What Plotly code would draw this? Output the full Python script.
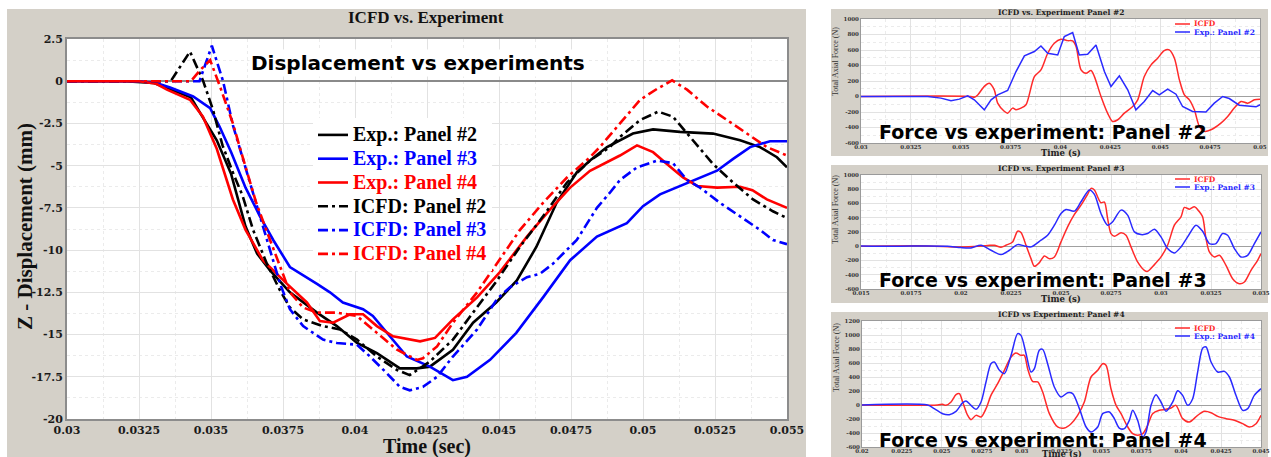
import plotly.graph_objects as go

W, H = 1271, 457

# ---------------- main chart data (time in s, Z displacement in mm) ----------------
exp2_t = [0.0300, 0.0320, 0.0330, 0.0336, 0.0343, 0.0347, 0.0352, 0.0357, 0.0362, 0.0366, 0.03705, 0.03774, 0.03868,
          0.03937, 0.04007, 0.04076, 0.04156, 0.04215, 0.0426, 0.0434, 0.0441, 0.0449, 0.04562, 0.0463, 0.0470, 0.0477,
          0.04816, 0.04875, 0.0491, 0.04965, 0.05035, 0.05128, 0.05243, 0.05337, 0.05406, 0.05465, 0.0550]
exp2_z = [0, 0, -0.1, -0.5, -0.95, -2.1, -3.5, -5.5, -8.6, -10.2, -11.2, -12.5, -13.7, -14.5, -15.5, -16.1, -17.0,
          -17.0, -16.9, -15.9, -14.3, -13.1, -11.8, -9.8, -7.2, -5.4, -4.7, -3.9, -3.6, -3.1, -2.85, -3.0, -3.1, -3.5,
          -3.9, -4.5, -5.1]

exp3_t = [0.0300, 0.0325, 0.0331, 0.03358, 0.03438, 0.03497, 0.0353, 0.0357, 0.0362, 0.0367, 0.03716, 0.03774, 0.03868,
          0.03913, 0.03958, 0.04028, 0.04062, 0.04122, 0.0418, 0.0426, 0.0434, 0.04389, 0.04469, 0.0456, 0.04653,
          0.04747, 0.0484, 0.04944, 0.0500, 0.05059, 0.05128, 0.05198, 0.05257, 0.05313, 0.05372, 0.05441, 0.0550]
exp3_z = [0, 0, -0.1, -0.37, -0.9, -1.6, -2.7, -4.2, -6.3, -8.0, -9.4, -11.0, -12.0, -12.5, -13.1, -13.5, -13.9, -15.1,
          -16.3, -16.9, -17.7, -17.5, -16.5, -14.9, -12.8, -10.6, -9.2, -8.4, -7.4, -6.7, -6.2, -5.7, -5.3, -4.6, -3.9,
          -3.55, -3.55]

exp4_t = [0.0300, 0.0325, 0.0331, 0.03347, 0.03427, 0.03472, 0.0352, 0.03576, 0.0362, 0.0368, 0.03764, 0.03833,
          0.03878, 0.03924, 0.03983, 0.04028, 0.04076, 0.04132, 0.04226, 0.04278, 0.0434, 0.04424, 0.04503, 0.04597,
          0.04677, 0.04747, 0.04816, 0.0492, 0.04979, 0.05035, 0.05083, 0.05139, 0.05188, 0.05257, 0.05337, 0.0538,
          0.0543, 0.0550]
exp4_z = [0, 0, -0.15, -0.5, -1.1, -2.1, -4.0, -7.0, -8.8, -10.6, -12.0, -13.1, -14.2, -14.3, -13.8, -13.8, -14.5,
          -15.1, -15.4, -15.2, -14.1, -12.8, -11.3, -9.2, -7.6, -6.3, -5.3, -4.4, -3.8, -4.2, -4.9, -5.7, -6.2, -6.3,
          -6.25, -6.45, -7.0, -7.5]

icfd2_t = [0.0300, 0.0336, 0.03427, 0.03472, 0.03507, 0.0354, 0.03576, 0.0361, 0.03646, 0.03694, 0.0374, 0.03774,
           0.0382, 0.03889, 0.03948, 0.04007, 0.04076, 0.04146, 0.0419, 0.0426, 0.0434, 0.04424, 0.04493, 0.04573,
           0.04653, 0.04736, 0.04816, 0.04885, 0.0492, 0.0499, 0.05053, 0.05104, 0.05174, 0.05243, 0.05313, 0.05382,
           0.05451, 0.0550]
icfd2_z = [0, 0, 1.75, 0.05, -1.7, -3.8, -5.4, -6.8, -8.8, -10.8, -12.4, -13.4, -14.1, -14.5, -14.7, -15.3, -16.3,
           -17.1, -17.4, -16.6, -15.3, -13.4, -11.8, -9.8, -8.0, -6.0, -4.7, -3.9, -3.3, -2.3, -1.8, -2.1, -3.5, -4.9,
           -6.0, -7.0, -7.7, -8.1]

icfd3_t = [0.0300, 0.0346, 0.03503, 0.03542, 0.03576, 0.0361, 0.03646, 0.0367, 0.03705, 0.0374, 0.03774, 0.0382,
           0.03889, 0.03937, 0.04007, 0.04052, 0.04111, 0.04156, 0.0419, 0.04236, 0.04285, 0.0434, 0.04424, 0.04493,
           0.04538, 0.04597, 0.04642, 0.04688, 0.0477, 0.0484, 0.04885, 0.0492, 0.04979, 0.05049, 0.05104, 0.05153,
           0.05198, 0.05267, 0.05337, 0.05406, 0.05451, 0.0550]
icfd3_z = [0, 0, 2.1, 0.0, -2.6, -4.5, -6.6, -8.0, -10.0, -12.0, -13.5, -14.5, -15.3, -15.5, -15.6, -16.3, -17.3,
           -18.1, -18.3, -18.1, -17.5, -16.3, -14.7, -12.9, -12.2, -11.6, -11.4, -10.8, -9.4, -7.5, -6.6, -5.85, -5.1,
           -4.7, -4.85, -5.85, -6.3, -7.2, -8.0, -8.8, -9.4, -9.65]

icfd4_t = [0.0300, 0.0343, 0.03462, 0.03497, 0.03531, 0.03576, 0.0361, 0.03657, 0.03705, 0.0374, 0.03774, 0.0382,
           0.03868, 0.03937, 0.04007, 0.04076, 0.04146, 0.04215, 0.04236, 0.04285, 0.0434, 0.04424, 0.04493, 0.04573,
           0.04653, 0.04736, 0.04816, 0.0485, 0.0492, 0.0499, 0.05049, 0.05101, 0.05153, 0.05222, 0.05292, 0.05361,
           0.0543, 0.0550]
icfd4_z = [0, 0, 0.65, 1.25, -0.3, -2.5, -4.5, -7.2, -9.4, -11.0, -12.5, -13.4, -13.7, -13.7, -13.9, -14.9, -15.9,
           -16.5, -16.4, -15.7, -14.3, -12.5, -10.8, -8.8, -7.2, -5.7, -4.5, -3.9, -2.5, -1.1, -0.45, 0.05, -0.5, -1.5,
           -2.3, -3.1, -3.9, -4.4]

main_xtick_vals = [0.03, 0.0325, 0.035, 0.0375, 0.04, 0.0425, 0.045, 0.0475, 0.05, 0.0525, 0.055]
main_xtick_text = ["0.03", "0.0325", "0.035", "0.0375", "0.04", "0.0425", "0.045", "0.0475", "0.05", "0.0525", "0.055"]
main_ytick_vals = [2.5, 0, -2.5, -5, -7.5, -10, -12.5, -15, -17.5, -20]
main_ytick_text = ["2.5", "0", "-2.5", "-5", "-7.5", "-10", "-12.5", "-15", "-17.5", "-20"]

# ---------------- force panels data (time in s, total axial force in N) ----------------
pA_icfd_t = [0.0300, 0.03551, 0.03568, 0.03585, 0.03618, 0.03643, 0.03668, 0.03685, 0.03718, 0.03735, 0.0376, 0.03777,
             0.03802, 0.03827, 0.03869, 0.03902, 0.03936, 0.03969, 0.04002, 0.04036, 0.04061, 0.04078, 0.04103, 0.04128,
             0.04153, 0.0417, 0.04203, 0.04236, 0.04261, 0.04287, 0.0432, 0.04362, 0.04387, 0.0442, 0.04454, 0.04487,
             0.0452, 0.04545, 0.04571, 0.04596, 0.04621, 0.04646, 0.04671, 0.04696, 0.04721, 0.04754, 0.04804, 0.04838,
             0.04871, 0.04905, 0.04938, 0.04972, 0.0500]
pA_icfd_f = [0, 0, -10, 20, 130, 170, 85, -85, -190, -215, -150, -170, -150, -107, 257, 343, 558, 687, 738, 721, 717,
             644, 343, 300, 335, 257, 0, -215, -322, -300, -215, -129, -43, 257, 408, 494, 592, 601, 494, 215, 21, -43,
             -172, -386, -450, -429, -343, -258, -150, -64, -86, -43, -34]
pA_exp_t = [0.0300, 0.03334, 0.03401, 0.03451, 0.03493, 0.03535, 0.03568, 0.03618, 0.03652, 0.03685, 0.03735, 0.03777,
            0.03819, 0.03869, 0.03902, 0.03936, 0.03986, 0.04019, 0.04061, 0.04094, 0.04136, 0.04178, 0.0422, 0.04253,
            0.04295, 0.04337, 0.04378, 0.0442, 0.04462, 0.04495, 0.04537, 0.04579, 0.04612, 0.04662, 0.04729, 0.04771,
            0.04813, 0.04846, 0.04896, 0.04946, 0.0498, 0.0500]
pA_exp_f = [0, 0, -21, -56, -34, 9, -43, -172, -43, 21, 77, 322, 524, 580, 652, 558, 536, 773, 824, 536, 545, 665, 322,
            129, 266, 86, -172, -64, 77, 21, 94, 30, -129, -193, -200, -86, 0, -26, -112, -129, -133, -107]

pB_icfd_t = [0.015, 0.01833, 0.0200, 0.02133, 0.02167, 0.0220, 0.02225, 0.02258, 0.02283, 0.0230, 0.02325, 0.0235,
             0.02367, 0.02392, 0.02417, 0.02442, 0.02467, 0.0250, 0.02533, 0.02567, 0.0260, 0.02633, 0.0265, 0.02667,
             0.02683, 0.0270, 0.02717, 0.02733, 0.0275, 0.02767, 0.0280, 0.02825, 0.0285, 0.02883, 0.02917, 0.02933,
             0.02967, 0.0300, 0.03033, 0.03067, 0.0310, 0.03117, 0.03142, 0.03167, 0.03192, 0.03208, 0.03225, 0.03242,
             0.03267, 0.03292, 0.03325, 0.03358, 0.03392, 0.03417, 0.0345, 0.03483, 0.0350]
pB_icfd_f = [0, 5, -10, 10, 14, -14, 14, 61, 211, 192, 14, -174, -282, -230, -136, -174, -150, 61, 272, 446, 577, 728,
             812, 790, 695, 610, 620, 390, 178, 141, 188, 155, -9, -220, -338, -352, -258, -150, 14, 296, 413, 545, 521,
             554, 484, 413, 108, -80, -150, -127, -268, -455, -526, -502, -338, -197, -103]
pB_exp_t = [0.015, 0.01667, 0.01833, 0.01933, 0.0200, 0.0205, 0.0210, 0.0215, 0.0220, 0.02242, 0.02283, 0.02317,
            0.0235, 0.0240, 0.02433, 0.02467, 0.0250, 0.02525, 0.02567, 0.0260, 0.02642, 0.02667, 0.0270, 0.02733,
            0.02758, 0.0280, 0.02833, 0.02867, 0.0290, 0.02933, 0.02967, 0.0300, 0.03033, 0.03067, 0.0310, 0.03133,
            0.03175, 0.03208, 0.03242, 0.03275, 0.03308, 0.03333, 0.03367, 0.0340, 0.03433, 0.03467, 0.0350]
pB_exp_f = [5, 0, 5, 0, -19, -23, 14, -56, -117, -56, 23, 5, -9, 85, 155, 296, 460, 516, 493, 624, 789, 728, 460, 296,
            343, 507, 437, 202, 164, 178, 239, 131, -33, -94, -9, 131, 296, 211, 38, 38, 178, 155, -33, -150, -127, 38,
            202]

pC_icfd_t = [0.020, 0.02474, 0.02505, 0.02526, 0.02558, 0.02589, 0.0261, 0.02631, 0.02662, 0.02683, 0.02714, 0.02746,
             0.02777, 0.02808, 0.0285, 0.02892, 0.02934, 0.02965, 0.02996, 0.03017, 0.03038, 0.03069, 0.03101, 0.03132,
             0.03174, 0.03226, 0.03268, 0.0331, 0.03351, 0.03393, 0.03435, 0.03477, 0.03508, 0.03529, 0.0356, 0.03592,
             0.03623, 0.03665, 0.03696, 0.03727, 0.03759, 0.0379, 0.03821, 0.03863, 0.03905, 0.03936, 0.03967, 0.04009,
             0.04051, 0.04103, 0.04145, 0.04187, 0.04229, 0.04281, 0.04333, 0.04385, 0.04427, 0.04469, 0.045]
pC_icfd_f = [0, 0, 10, -5, 43, 148, 162, 43, -148, -210, -148, -171, -52, 138, 305, 495, 686, 743, 710, 710, 519, 338,
             329, 186, -124, -314, -329, -267, -148, 43, 400, 495, 590, 567, 233, -5, -124, -314, -410, -433, -410,
             -290, -124, -76, -62, -43, -5, -195, -243, -148, -90, -110, -162, -195, -219, -267, -314, -267, -148]
pC_exp_t = [0.020, 0.02411, 0.02453, 0.02505, 0.02547, 0.02589, 0.02631, 0.02652, 0.02683, 0.02714, 0.02746, 0.02777,
            0.02808, 0.02829, 0.02861, 0.02892, 0.02934, 0.02975, 0.02996, 0.03028, 0.03059, 0.0308, 0.03111, 0.03132,
            0.03163, 0.03205, 0.03247, 0.03289, 0.0332, 0.03362, 0.03404, 0.03435, 0.03477, 0.03508, 0.0355, 0.03581,
            0.03612, 0.03644, 0.03675, 0.03696, 0.03727, 0.03759, 0.0378, 0.03811, 0.03842, 0.03873, 0.03905, 0.03947,
            0.03978, 0.04009, 0.04041, 0.04072, 0.04103, 0.04135, 0.04156, 0.04187, 0.04229, 0.0427, 0.04302, 0.04343,
            0.04385, 0.04417, 0.04458, 0.045]
pC_exp_f = [0, 0, -52, -124, -138, -90, 33, 57, -5, -62, 43, 329, 590, 614, 495, 448, 710, 1019, 995, 733, 471, 519,
            781, 795, 590, 257, 114, 176, 162, -52, -314, -386, -314, -124, -100, -195, -329, -338, -219, -76, -219,
            -457, -386, -5, 148, 43, -90, 43, 205, 138, -5, 90, 471, 814, 829, 614, 471, 481, 400, 138, -76, -52, 138,
            233]

pA_xtick_vals = [0.03, 0.0325, 0.035, 0.0375, 0.04, 0.0425, 0.045, 0.0475, 0.05]
pA_xtick_text = ["0.03", "0.0325", "0.035", "0.0375", "0.04", "0.0425", "0.045", "0.0475", "0.05"]
pB_xtick_vals = [0.015, 0.0175, 0.02, 0.0225, 0.025, 0.0275, 0.03, 0.0325, 0.035]
pB_xtick_text = ["0.015", "0.0175", "0.02", "0.0225", "0.025", "0.0275", "0.03", "0.0325", "0.035"]
pC_xtick_vals = [0.02, 0.0225, 0.025, 0.0275, 0.03, 0.0325, 0.035, 0.0375, 0.04, 0.0425, 0.045]
pC_xtick_text = ["0.02", "0.0225", "0.025", "0.0275", "0.03", "0.0325", "0.035", "0.0375", "0.04", "0.0425", "0.045"]
force_ytick_vals_AB = [1000, 800, 600, 400, 200, 0, -200, -400, -600]
force_ytick_text_AB = ["1000", "800", "600", "400", "200", "0", "-200", "-400", "-600"]
force_ytick_vals_C = [1200, 1000, 800, 600, 400, 200, 0, -200, -400, -600]
force_ytick_text_C = ["1200", "1000", "800", "600", "400", "200", "0", "-200", "-400", "-600"]

# ---------------- styling ----------------
BLACK, BLUE, RED = "#000000", "#0000ff", "#ff0000"
SRED, SBLUE = "#ff2a2a", "#2a2aff"
DASHDOT = "10px,4px,3px,4px"
GRAYBG = "#d4d0c8"
FRAME = "#8c8c8c"
GRID = "#e2e2e2"
MINOR = "#ebebeb"


def px(x):
    return x / W


def py(y):
    return 1 - y / H


def note(text, x, y, font, **kw):
    d = dict(text=text, x=px(x), y=py(y), xref="paper", yref="paper", showarrow=False,
             xanchor="center", yanchor="middle", font=font)
    d.update(kw)
    return d


fig = go.Figure()

main_series = [
    ("Exp.: Panel #2", exp2_t, exp2_z, BLACK, "solid"),
    ("Exp.: Panel #3", exp3_t, exp3_z, BLUE, "solid"),
    ("Exp.: Panel #4", exp4_t, exp4_z, RED, "solid"),
    ("ICFD: Panel #2", icfd2_t, icfd2_z, BLACK, DASHDOT),
    ("ICFD: Panel #3", icfd3_t, icfd3_z, BLUE, DASHDOT),
    ("ICFD: Panel #4", icfd4_t, icfd4_z, RED, DASHDOT),
]
for name, t, z, c, d in main_series:
    fig.add_trace(go.Scatter(
        x=t, y=z, mode="lines", xaxis="x", yaxis="y",
        name='<span style="font-size:20px;color:%s">%s</span>' % (c, name),
        line=dict(color=c, width=2.6, dash=d),
    ))

panels = [
    ("2", pA_icfd_t, pA_icfd_f, pA_exp_t, pA_exp_f, "Panel #2"),
    ("3", pB_icfd_t, pB_icfd_f, pB_exp_t, pB_exp_f, "Panel #3"),
    ("4", pC_icfd_t, pC_icfd_f, pC_exp_t, pC_exp_f, "Panel #4"),
]
for ax, it, iff, et, ef, lab in panels:
    fig.add_trace(go.Scatter(x=it, y=iff, mode="lines", xaxis="x" + ax, yaxis="y" + ax, showlegend=False,
                             name="ICFD", line=dict(color=SRED, width=1.5, shape="spline", smoothing=0.8)))
    fig.add_trace(go.Scatter(x=et, y=ef, mode="lines", xaxis="x" + ax, yaxis="y" + ax, showlegend=False,
                             name="Exp.: " + lab, line=dict(color=SBLUE, width=1.5,
                                                              shape="linear" if ax == "2" else "spline",
                                                              smoothing=0.8)))

# ---------------- layout geometry (pixels) ----------------
main_box = dict(x0=67, x1=787, y0=39, y1=419)
small_boxes = {
    "2": dict(x0=861, x1=1260, y0=19, y1=143, bg=(831, 1268, 9, 156), title_y=12, xt_y=153, big_y=132,
              leg_y=(24, 32), ytitle_y=62, title="ICFD vs. Experiment Panel #2",
              xr=[0.03, 0.05], yr=[-600, 1000], xtv=pA_xtick_vals, xtt=pA_xtick_text,
              ytv=force_ytick_vals_AB, ytt=force_ytick_text_AB, lab="Panel #2", xm=0.00125, ym=100),
    "3": dict(x0=861, x1=1261, y0=175, y1=289, bg=(831, 1268, 165, 303), title_y=168, xt_y=299, big_y=280,
              leg_y=(179, 187), ytitle_y=210, title="ICFD vs. Experiment Panel #3",
              xr=[0.015, 0.035], yr=[-600, 1000], xtv=pB_xtick_vals, xtt=pB_xtick_text,
              ytv=force_ytick_vals_AB, ytt=force_ytick_text_AB, lab="Panel #3", xm=0.00125, ym=100),
    "4": dict(x0=862, x1=1261, y0=321, y1=447, bg=(831, 1268, 312, 457), title_y=314, xt_y=454, big_y=440,
              leg_y=(328, 336), ytitle_y=358, title="ICFD vs Experiment: Panel #4",
              xr=[0.02, 0.045], yr=[-600, 1200], xtv=pC_xtick_vals, xtt=pC_xtick_text,
              ytv=force_ytick_vals_C, ytt=force_ytick_text_C, lab="Panel #4", xm=0.00125, ym=100),
}

shapes = []
annotations = []

shapes.append(dict(type="rect", xref="paper", yref="paper", x0=px(7), x1=px(806), y0=py(457), y1=py(9),
                   fillcolor=GRAYBG, line=dict(width=0), layer="below"))
shapes.append(dict(type="rect", xref="paper", yref="paper", x0=px(main_box["x0"]), x1=px(main_box["x1"]),
                   y0=py(main_box["y1"]), y1=py(main_box["y0"]), fillcolor="white", line=dict(width=0),
                   layer="below"))

layout_axes = {}
layout_axes["xaxis"] = dict(
    domain=[px(main_box["x0"]), px(main_box["x1"])], range=[0.03, 0.055], anchor="y", automargin=False,
    tickmode="array", tickvals=main_xtick_vals, ticktext=main_xtick_text,
    showgrid=True, gridcolor=GRID, gridwidth=1, zeroline=False,
    minor=dict(tickmode="linear", tick0=0.03, dtick=0.00125, showgrid=True, gridcolor=MINOR, griddash="dot"),
    showline=True, linecolor=FRAME, linewidth=2, mirror=True, ticks="",
    tickfont=dict(family="DejaVu Serif", size=11, color="#1a1a1a", weight="bold"), fixedrange=True,
)
layout_axes["yaxis"] = dict(
    domain=[py(main_box["y1"]), py(main_box["y0"])], range=[-20, 2.5], anchor="x", automargin=False,
    tickmode="array", tickvals=main_ytick_vals, ticktext=main_ytick_text,
    showgrid=True, gridcolor=GRID, gridwidth=1,
    minor=dict(tickmode="linear", tick0=0, dtick=1.25, showgrid=True, gridcolor=MINOR, griddash="dot"),
    zeroline=True, zerolinecolor="#8a8a8a", zerolinewidth=1.5,
    showline=True, linecolor=FRAME, linewidth=2, mirror=True, ticks="",
    tickfont=dict(family="DejaVu Serif", size=11, color="#1a1a1a", weight="bold"), fixedrange=True,
)

for ax, b in small_boxes.items():
    bx0, bx1, by0, by1 = b["bg"]
    shapes.append(dict(type="rect", xref="paper", yref="paper", x0=px(bx0), x1=px(bx1), y0=py(by1), y1=py(by0),
                       fillcolor=GRAYBG, line=dict(width=0), layer="below"))
    shapes.append(dict(type="rect", xref="paper", yref="paper", x0=px(b["x0"]), x1=px(b["x1"]), y0=py(b["y1"]),
                       y1=py(b["y0"]), fillcolor="white", line=dict(width=0), layer="below"))
    layout_axes["xaxis" + ax] = dict(
        domain=[px(b["x0"]), px(b["x1"])], range=b["xr"], anchor="y" + ax, automargin=False,
        tickmode="array", tickvals=b["xtv"], ticktext=b["xtt"], ticklabelstandoff=-2,
        showgrid=True, gridcolor=GRID, gridwidth=1, zeroline=False,
        minor=dict(tickmode="linear", tick0=b["xr"][0], dtick=b["xm"], showgrid=True, gridcolor=MINOR,
                   griddash="dot"),
        showline=True, linecolor="#9a9a9a", linewidth=1, mirror=True, ticks="",
        tickfont=dict(family="DejaVu Serif", size=5.5, color="#333333", weight="bold"), fixedrange=True,
    )
    layout_axes["yaxis" + ax] = dict(
        domain=[py(b["y1"]), py(b["y0"])], range=b["yr"], anchor="x" + ax, automargin=False,
        tickmode="array", tickvals=b["ytv"], ticktext=b["ytt"],
        showgrid=True, gridcolor=GRID, gridwidth=1,
        minor=dict(tickmode="linear", tick0=0, dtick=b["ym"], showgrid=True, gridcolor=MINOR, griddash="dot"),
        zeroline=True, zerolinecolor="#a0a0a0", zerolinewidth=1,
        showline=True, linecolor="#9a9a9a", linewidth=1, mirror=True, ticks="",
        tickfont=dict(family="DejaVu Serif", size=5.5, color="#333333", weight="bold"), fixedrange=True,
    )
    cx = (b["x0"] + b["x1"]) / 2
    annotations.append(note(b["title"], cx, b["title_y"],
                            dict(family="DejaVu Serif", size=7.5, color="#222", weight="bold")))
    annotations.append(note("Time (s)", cx, b["xt_y"],
                            dict(family="DejaVu Serif", size=8.5, color="#222", weight="bold")))
    annotations.append(note("Total Axial Force (N)", 836, b["ytitle_y"],
                            dict(family="Liberation Serif", size=8, color="#333"), textangle=-90))
    annotations.append(note("Force vs experiment: " + b["lab"], 1043, b["big_y"],
                            dict(family="DejaVu Sans", size=19, color="#000", weight="bold")))
    for (lbl, col), ly in zip([("ICFD", SRED), ("Exp.: " + b["lab"], SBLUE)], b["leg_y"]):
        shapes.append(dict(type="line", xref="paper", yref="paper", x0=px(1175), x1=px(1190), y0=py(ly),
                           y1=py(ly), line=dict(color=col, width=1.5)))
        annotations.append(note(lbl, 1192, ly, dict(family="DejaVu Serif", size=7.5, color=col, weight="bold"),
                                xanchor="left"))

annotations += [
    note("ICFD vs. Experiment", 426, 18, dict(family="Liberation Serif", size=17, color="#111", weight="bold")),
    note("Z - Displacement (mm)", 25, 227, dict(family="Liberation Serif", size=21, color="#111", weight="bold"),
         textangle=-90),
    note("Time (sec)", 427, 446, dict(family="Liberation Serif", size=20, color="#111", weight="bold")),
    note("Displacement vs experiments", 418, 63, dict(family="DejaVu Sans", size=20, color="#000", weight="bold"),
         bgcolor="white"),
]

fig.update_layout(
    width=W, height=H, margin=dict(l=0, r=0, t=0, b=0, autoexpand=False),
    paper_bgcolor="white", plot_bgcolor="rgba(0,0,0,0)",
    shapes=shapes, annotations=annotations,
    showlegend=True,
    legend=dict(x=px(313), y=py(118), xanchor="left", yanchor="top", bgcolor="white", borderwidth=0,
                font=dict(family="Liberation Serif", size=16, color="#000", weight="bold"),
                tracegroupgap=0, itemclick=False, itemdoubleclick=False),
    **layout_axes,
)

fig.write_html("out.html", config={"displayModeBar": False, "staticPlot": True},
               post_script="document.body.style.margin='0';")
